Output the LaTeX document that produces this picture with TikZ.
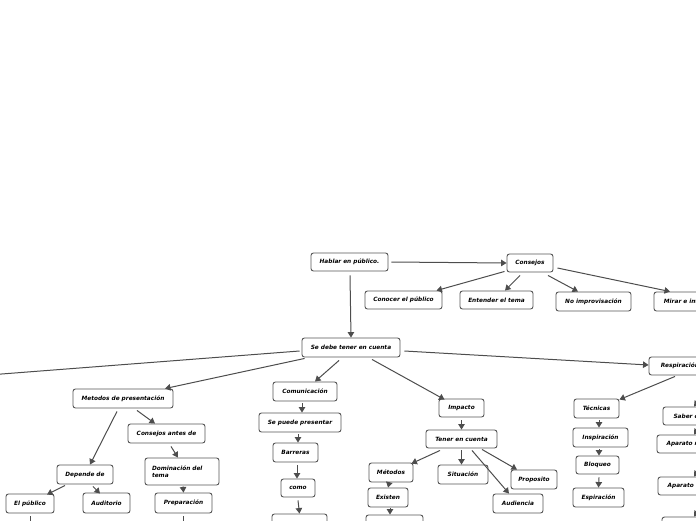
\documentclass[tikz,border=0pt]{standalone}
\usepackage{fontspec}
\setmainfont{DejaVu Sans}
\usetikzlibrary{arrows.meta,calc}
\definecolor{edge}{HTML}{4D4D4D}
\definecolor{bord}{HTML}{555555}
\tikzset{
  box/.style={draw=bord, line width=0.9pt, rounded corners=2.5pt, fill=white,
    inner sep=0pt, align=center, font=\fontsize{5.8}{6.8}\selectfont\bfseries\itshape},
  arr/.style={draw=edge, line width=1pt, -{Triangle[length=5.5pt,width=6.5pt]}},
  ln/.style={draw=edge, line width=1pt}
}
\begin{document}
\begin{tikzpicture}[x=1pt,y=-1pt]
\useasboundingbox (0,0) rectangle (696,520);
\clip (0,0) rectangle (696,520);
% top
\node[box,minimum width=77,minimum height=18] (hab) at (349.5,262) {Hablar en público.};
\node[box,minimum width=46,minimum height=18] (con) at (530,263) {Consejos};
\node[box,minimum width=77,minimum height=18] (conoc) at (403.5,300) {Conocer el público};
\node[box,minimum width=73,minimum height=18] (ent) at (496.5,300) {Entender el tema};
\node[box,minimum width=75,minimum height=19] (noimp) at (593.5,301.5) {No improvisación};
\node[box,minimum width=82,minimum height=19] (mirar) at (695,301.5) {Mirar e interactuar};
\node[box,minimum width=98,minimum height=19] (sedebe) at (351,347.5) {Se debe tener en cuenta};
% left branch
\node[box,minimum width=100,minimum height=19] (met) at (123,398.5) {Metodos de presentación};
\node[box,minimum width=77,minimum height=19] (cant) at (166.5,433.5) {Consejos antes de};
\node[box,minimum width=74,minimum height=27,text width=60,align=left,inner xsep=7] (dom) at (182,471.5) {Dominación del tema};
\node[box,minimum width=56,minimum height=19] (dep) at (85,474.5) {Depende de};
\node[box,minimum width=48,minimum height=19] (elp) at (30,503.5) {El público};
\node[box,minimum width=47,minimum height=20] (aud) at (106.5,503) {Auditorio};
\node[box,minimum width=57,minimum height=20] (prep) at (183.5,503) {Preparación};
\coordinate (elpd) at (30,526);
\coordinate (prepd) at (183,526);
% middle
\node[box,minimum width=64,minimum height=19] (comu) at (305,391.5) {Comunicación};
\node[box,minimum width=82,minimum height=19] (sepu) at (300,422.5) {Se puede presentar};
\node[box,minimum width=45,minimum height=19] (barr) at (295.5,452.5) {Barreras};
\node[box,minimum width=34,minimum height=18] (como) at (298,488) {como};
\node[box,minimum width=55,minimum height=19] (cbelow) at (299.5,523.5) {};
\node[box,minimum width=45,minimum height=18] (imp) at (461.5,408) {Impacto};
\node[box,minimum width=71,minimum height=18] (tener) at (461.5,439) {Tener en cuenta};
\node[box,minimum width=44,minimum height=19] (metd) at (391,472.5) {Métodos};
\node[box,minimum width=40,minimum height=19] (exist) at (388,497.5) {Existen};
\node[box,minimum width=57,minimum height=19] (ebelow) at (394.5,524.5) {};
\node[box,minimum width=50,minimum height=19] (sit) at (463,474.5) {Situación};
\node[box,minimum width=46,minimum height=19] (prop) at (534,479.5) {Proposito};
\node[box,minimum width=50,minimum height=19] (audi) at (518,503.5) {Audiencia};
% right
\node[box,minimum width=62,minimum height=18] (resp) at (680,366) {Respiración};
\node[box,minimum width=45,minimum height=19] (tec) at (596.5,408.5) {Técnicas};
\node[box,minimum width=55,minimum height=19] (insp) at (600.5,437.5) {Inspiración};
\node[box,minimum width=43,minimum height=18] (bloq) at (597.5,465) {Bloqueo};
\node[box,minimum width=51,minimum height=19] (espi) at (598.5,497.5) {Espiración};
\node[box,minimum width=72,minimum height=18] (saber) at (699,416) {Saber controlar};
\node[box,minimum width=86,minimum height=18] (apr) at (700,444) {Aparato respiratorio};
\node[box,minimum width=73,minimum height=18] (apf) at (694.5,486) {Aparato fonador};
\node[box,minimum width=60,minimum height=19] (rbot) at (692,526.5) {};
\coordinate (offl) at (-5,374.5);
\coordinate (s1) at (702,396);
\coordinate (s2) at (702,423);
\coordinate (s3) at (702,465);
\coordinate (s4) at (702,505);
% connectors
\draw[arr] ($(hab.east)+(3,0)$) -- (con.west);
\draw[arr] ($(con.south west)+(-2,-1)$) -- ($(conoc.north)+(33,0)$);
\draw[arr] ($(con.south)+(-10,3)$) -- ($(ent.north)+(8.5,0)$);
\draw[arr] ($(con.south)+(18,3)$) -- ($(noimp.north)+(-15.5,0)$);
\draw[arr] ($(con.east)+(4,5)$) -- ($(mirar.north)+(-25,0)$);
\draw[arr] ($(hab.south)+(0.5,4)$) -- (sedebe.north);
\draw[ln] ($(sedebe.west)+(-2,3.5)$) -- (offl);
\draw[arr] ($(sedebe.south west)+(3,1)$) -- ($(met.north)+(42,0)$);
\draw[arr] ($(sedebe.south)+(-12,3)$) -- ($(comu.north)+(10,0)$);
\draw[arr] ($(sedebe.south)+(21,2)$) -- ($(imp.north west)+(6,1)$);
\draw[arr] ($(sedebe.east)+(4,3.5)$) -- ($(resp.west)+(0,-1)$);
\draw[arr] ($(met.south)+(-6,3)$) -- ($(dep.north)+(5,0)$);
\draw[arr] ($(met.south)+(14,2)$) -- ($(cant.north)+(-11.5,0)$);
\draw[arr] ($(cant.south)+(4.5,3)$) -- ($(dom.north)+(-4,0)$);
\draw[arr] ($(dom.south)+(1,1)$) -- (prep.north);
\draw[arr] ($(dep.south)+(-20,1)$) -- ($(elp.north)+(17,1)$);
\draw[arr] ($(dep.south)+(8,2)$) -- ($(aud.north)+(-6.5,1)$);
\draw[ln] ($(elp.south)+(0,3)$) -- (elpd);
\draw[ln] ($(prep.south)+(-0.5,3)$) -- (prepd);
\draw[arr] ($(comu.south)+(-3,2)$) -- ($(sepu.north)+(2,0)$);
\draw[arr] ($(sepu.south)+(-2,2)$) -- ($(barr.north)+(2.5,0)$);
\draw[arr] ($(barr.south)+(1.5,3)$) -- ($(como.north)+(-1,0)$);
\draw[arr] ($(como.south)+(0,3)$) -- (cbelow.north);
\draw[arr] ($(imp.south)+(0,3)$) -- (tener.north);
\draw[arr] ($(tener.south)+(-21.5,2)$) -- ($(metd.north east)+(-2,1)$);
\draw[arr] ($(tener.south)+(0,2)$) -- ($(sit.north)+(-1.5,0)$);
\draw[arr] ($(tener.south)+(20.5,1)$) -- ($(prop.north)+(-17,0)$);
\draw[arr] ($(tener.south)+(10.5,2)$) -- ($(audi.north)+(-9,0)$);
\draw[arr] ($(metd.south)+(-2,1)$) -- (exist.north);
\draw[arr] ($(exist.south)+(2,1)$) -- ($(ebelow.north)+(-4.5,0)$);
\draw[arr] ($(resp.south)+(-5,1)$) -- ($(tec.north east)+(0,1)$);
\draw[arr] ($(tec.south)+(2.5,2)$) -- ($(insp.north)+(-1.5,0)$);
\draw[arr] ($(insp.south)+(-1.5,2)$) -- ($(bloq.north)+(1.5,0)$);
\draw[arr] ($(bloq.south)+(1.5,3)$) -- (espi.north);
\draw[arr] (s1) -- ($(saber.north)+(-5,0)$);
\draw[arr] (s2) -- ($(apr.north)+(-6,0)$);
\draw[arr] (s3) -- ($(apf.north)+(-0.5,0)$);
\draw[arr] (s4) -- ($(rbot.north)+(2,0)$);
\end{tikzpicture}
\end{document}
